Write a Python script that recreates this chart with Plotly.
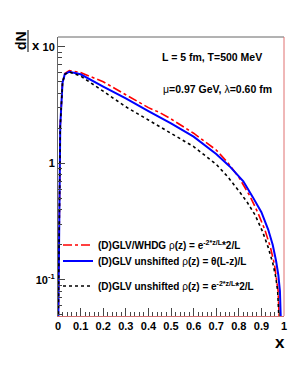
import plotly.graph_objects as go

# data
x_red = [0.001, 0.005, 0.01, 0.02, 0.03, 0.05, 0.1, 0.2, 0.3, 0.4, 0.45, 0.5, 0.6, 0.7, 0.75, 0.8, 0.85, 0.886, 0.915, 0.94, 0.958, 0.967, 0.974, 0.979]
y_red = [0.04, 0.4, 2.1, 4.9, 5.9, 6.25, 6.0, 5.0, 3.85, 3.0, 2.72, 2.4, 1.81, 1.3, 1.02, 0.76, 0.52, 0.37, 0.27, 0.19, 0.135, 0.105, 0.08, 0.045]

x_blue = [0.001, 0.005, 0.01, 0.02, 0.03, 0.05, 0.1, 0.2, 0.3, 0.4, 0.5, 0.6, 0.7, 0.76, 0.82, 0.86, 0.9, 0.93, 0.95, 0.965, 0.975, 0.982, 0.986]
y_blue = [0.04, 0.4, 2.1, 4.9, 5.8, 6.1, 5.8, 4.55, 3.6, 2.8, 2.2, 1.69, 1.2, 0.94, 0.7, 0.52, 0.38, 0.27, 0.2, 0.145, 0.11, 0.08, 0.045]

x_black = [0.001, 0.005, 0.01, 0.02, 0.03, 0.05, 0.1, 0.2, 0.3, 0.4, 0.45, 0.5, 0.6, 0.7, 0.75, 0.8, 0.835, 0.872, 0.905, 0.93, 0.95, 0.964, 0.972, 0.978]
y_black = [0.04, 0.4, 2.1, 4.9, 5.8, 6.05, 5.6, 4.15, 3.05, 2.35, 2.06, 1.8, 1.39, 0.98, 0.77, 0.58, 0.47, 0.36, 0.26, 0.19, 0.14, 0.105, 0.08, 0.045]

x_ticks = [0, 0.1, 0.2, 0.3, 0.4, 0.5, 0.6, 0.7, 0.8, 0.9, 1]
x_ticklabels = ["0", "0.1", "0.2", "0.3", "0.4", "0.5", "0.6", "0.7", "0.8", "0.9", "1"]
y_ticks = [0.1, 1, 10]
y_ticklabels = ["10<sup>-1</sup>", "1", "10"]

names = [
    "(D)GLV/WHDG <span style='font-weight:normal'>ρ</span>(z) = e<sup>-2*z/L</sup>*2/L",
    "(D)GLV unshifted <span style='font-weight:normal'>ρ</span>(z) = θ(L-z)/L",
    "(D)GLV unshifted <span style='font-weight:normal'>ρ</span>(z) = e<sup>-2*z/L</sup>*2/L",
]

W, H = 291, 373
L, R, T, B = 58, 284, 37, 316


def px(xp):
    return (xp - L) / (R - L)


def py(yp):
    return (B - yp) / (B - T)


FONT = "Liberation Sans"

fig = go.Figure()
fig.add_trace(go.Scatter(x=x_red, y=y_red, mode="lines", name=names[0],
                         line=dict(color="#ff0000", width=1.6, dash="dashdot"), legend="legend"))
fig.add_trace(go.Scatter(x=x_blue, y=y_blue, mode="lines", name=names[1],
                         line=dict(color="#0000ff", width=2), legend="legend2"))
fig.add_trace(go.Scatter(x=x_black, y=y_black, mode="lines", name=names[2],
                         line=dict(color="#000000", width=1.6, dash="dot"), legend="legend3"))

legfont = dict(family=FONT, size=10, color="black", weight="bold")
common_leg = dict(xanchor="left", yanchor="middle", bgcolor="rgba(0,0,0,0)", borderwidth=0,
                  font=legfont, itemwidth=30)
fig.update_layout(
    legend=dict(x=px(58), y=py(245), **common_leg),
    legend2=dict(x=px(58), y=py(261), **common_leg),
    legend3=dict(x=px(58), y=py(286), **common_leg),
)

minor_y = [v * m for v in (0.01, 0.1, 1) for m in range(2, 10)]
minor_y = [v for v in minor_y if 0.049 < v < 12.5]

fig.update_layout(
    width=W, height=H,
    margin=dict(l=L, r=W - R, t=T, b=H - B, autoexpand=False),
    paper_bgcolor="white", plot_bgcolor="white",
    showlegend=True,
    xaxis=dict(range=[0, 1], tickmode="array", tickvals=x_ticks, ticktext=x_ticklabels,
               ticks="inside", ticklen=8, tickcolor="#444", showgrid=False, zeroline=False,
               showline=True, linecolor="#d07070", linewidth=1,
               tickfont=dict(family=FONT, size=11, color="black", weight="bold"),
               minor=dict(dtick=0.02, ticks="inside", ticklen=4, tickcolor="#444", showgrid=False)),
    yaxis=dict(type="log", range=[-1.31, 1.083], tickmode="array", tickvals=y_ticks,
               ticktext=y_ticklabels, ticks="inside", ticklen=7, tickcolor="#444",
               showgrid=False, zeroline=False, showline=True, linecolor="#666", linewidth=1,
               tickfont=dict(family=FONT, size=11, color="black", weight="bold"),
               minor=dict(tickvals=minor_y, ticks="inside", ticklen=4, tickcolor="#444", showgrid=False)),
)

# frame top and right
fig.add_shape(type="line", xref="paper", yref="paper", x0=0, x1=1, y0=1, y1=1,
              line=dict(color="#666", width=1))
fig.add_shape(type="line", xref="paper", yref="paper", x0=1, x1=1, y0=0, y1=1,
              line=dict(color="#e07070", width=1))

ann_font = dict(family=FONT, size=10.5, color="black", weight="bold")
ac = dict(xref="paper", yref="paper", showarrow=False, xanchor="center", yanchor="middle")
fig.add_annotation(x=px(212), y=py(57), text="L = 5 fm, T=500 MeV", font=ann_font, **ac)
fig.add_annotation(x=px(217), y=py(89),
                   text="<span style='font-weight:normal'>μ</span>=0.97 GeV, <span style='font-weight:normal'>λ</span>=0.60 fm",
                   font=ann_font, **ac)
# axis titles
fig.add_annotation(x=px(280), y=py(342), text="x",
                   font=dict(family=FONT, size=17, color="black", weight="bold"), **ac)
fig.add_annotation(x=px(21), y=py(41), text="dN", textangle=-90,
                   font=dict(family=FONT, size=14, color="black", weight="bold"), **ac)
fig.add_shape(type="line", xref="paper", yref="paper", x0=px(28), x1=px(28), y0=py(30), y1=py(52),
              line=dict(color="black", width=1))
fig.add_annotation(x=px(36), y=py(46), text="x",
                   font=dict(family=FONT, size=13, color="black", weight="bold"), **ac)

fig.write_html("out.html", config={"displayModeBar": False},
               post_script="document.body.style.margin='0';document.body.style.padding='0';document.body.style.overflow='hidden';")
